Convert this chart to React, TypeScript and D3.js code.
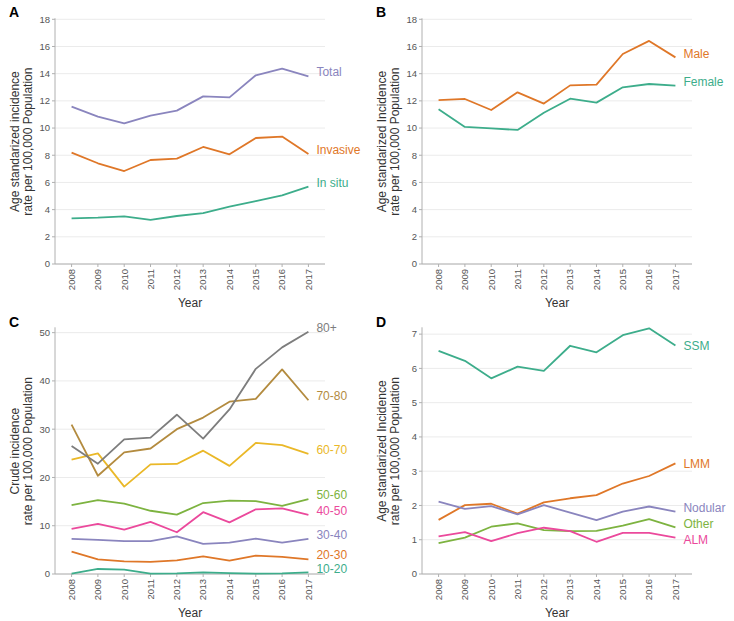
import React from "react";
import * as d3 from "d3";

const years = ["2008", "2009", "2010", "2011", "2012", "2013", "2014", "2015", "2016", "2017"];

// Panel A
const totalA = [11.57, 10.84, 10.35, 10.91, 11.28, 12.33, 12.26, 13.88, 14.37, 13.81];
const invasiveA = [8.19, 7.41, 6.84, 7.65, 7.75, 8.61, 8.07, 9.27, 9.37, 8.09];
const inSituA = [3.36, 3.41, 3.51, 3.24, 3.53, 3.75, 4.22, 4.63, 5.05, 5.69];

// Panel B
const maleB = [12.06, 12.14, 11.33, 12.63, 11.8, 13.14, 13.19, 15.45, 16.41, 15.2];
const femaleB = [11.38, 10.08, 9.98, 9.86, 11.13, 12.16, 11.87, 13.0, 13.24, 13.12];

// Panel C
const age10_20 = [0.07, 1.04, 0.9, 0.07, 0.14, 0.35, 0.2, 0.07, 0.14, 0.35];
const age20_30 = [4.64, 3.05, 2.63, 2.5, 2.84, 3.67, 2.77, 3.8, 3.53, 3.05];
const age30_40 = [7.27, 7.06, 6.8, 6.8, 7.8, 6.23, 6.5, 7.34, 6.5, 7.27];
const age40_50 = [9.35, 10.4, 9.2, 10.8, 8.65, 12.8, 10.7, 13.4, 13.6, 12.25];
const age50_60 = [14.27, 15.3, 14.6, 13.1, 12.3, 14.7, 15.2, 15.1, 14.1, 15.5];
const age60_70 = [23.7, 25.0, 18.1, 22.7, 22.8, 25.55, 22.4, 27.15, 26.7, 24.9];
const age70_80 = [30.95, 20.36, 25.2, 26.0, 30.0, 32.4, 35.7, 36.3, 42.4, 36.0];
const age80plus = [26.5, 22.85, 27.9, 28.25, 33.0, 28.05, 34.1, 42.5, 46.95, 50.2];

// Panel D
const ssmD = [6.51, 6.22, 5.71, 6.05, 5.93, 6.66, 6.47, 6.97, 7.17, 6.67];
const lmmD = [1.58, 2.01, 2.05, 1.76, 2.09, 2.21, 2.3, 2.64, 2.86, 3.23];
const nodularD = [2.11, 1.9, 1.98, 1.74, 2.01, 1.79, 1.57, 1.82, 1.97, 1.82];
const otherD = [0.9, 1.06, 1.38, 1.48, 1.28, 1.25, 1.26, 1.41, 1.6, 1.36];
const almD = [1.1, 1.22, 0.96, 1.19, 1.35, 1.25, 0.94, 1.2, 1.2, 1.06];

const ticksAB = [0, 2, 4, 6, 8, 10, 12, 14, 16, 18];
const ticksC = [0, 10, 20, 30, 40, 50];
const ticksD = [0, 1, 2, 3, 4, 5, 6, 7];

// Dark2 lightened slightly toward white
const pal = d3.schemeDark2.map((c) => d3.interpolateRgb(c, "#ffffff")(0.15));
const FONT = "'Liberation Sans', Arial, Helvetica, sans-serif";

type Series = { name: string; values: number[]; color: string; nudge: number };

type PanelProps = {
  letter: string;
  ox: number;
  oy: number;
  yMax: number;
  top: number;
  ticks: number[];
  yTitle: string[];
  series: Series[];
};

function Panel({ letter, ox, oy, yMax, top, ticks, yTitle, series }: PanelProps) {
  const left = 55;
  const right = 325;
  const bottom = 264;
  const x = d3.scalePoint<string>().domain(years).range([left, right]).padding(0.63);
  const y = d3.scaleLinear().domain([0, yMax]).range([bottom, top]);
  const line = d3
    .line<number>()
    .x((_, i) => x(years[i]) as number)
    .y((v) => y(v));
  const cy = (top + bottom) / 2;
  const lastX = x(years[years.length - 1]) as number;
  return (
    <g transform={`translate(${ox},${oy})`}>
      <text x={9} y={17} fontSize={14} fontWeight="bold" fontFamily={FONT} fill="#000">
        {letter}
      </text>
      {ticks.map((t) => (
        <line key={"g" + t} x1={left} x2={right} y1={y(t)} y2={y(t)} stroke="#ebebeb" strokeWidth={1} />
      ))}
      <line x1={left} x2={left} y1={top - 1} y2={bottom} stroke="#b0b0b0" strokeWidth={1} />
      <line x1={left} x2={right} y1={bottom} y2={bottom} stroke="#b0b0b0" strokeWidth={1} />
      {ticks.map((t) => (
        <g key={"t" + t}>
          <line x1={left - 3} x2={left} y1={y(t)} y2={y(t)} stroke="#b0b0b0" />
          <text x={left - 5} y={y(t)} dy="0.35em" textAnchor="end" fontSize={9.5} fill="#555" fontFamily={FONT}>
            {t}
          </text>
        </g>
      ))}
      {years.map((yr) => (
        <g key={yr}>
          <line x1={x(yr)} x2={x(yr)} y1={bottom} y2={bottom + 3} stroke="#b0b0b0" />
          <text
            transform={`translate(${x(yr)},${bottom + 5}) rotate(-90)`}
            dy="0.35em"
            textAnchor="end"
            fontSize={9.5}
            fill="#555"
            fontFamily={FONT}
          >
            {yr}
          </text>
        </g>
      ))}
      <text x={(left + right) / 2} y={307} textAnchor="middle" fontSize={12} fill="#333" fontFamily={FONT}>
        Year
      </text>
      <text transform={`translate(19,${cy}) rotate(-90)`} textAnchor="middle" fontSize={12} fill="#333" fontFamily={FONT}>
        <tspan x={0} dy={0}>{yTitle[0]}</tspan>
        <tspan x={0} dy={13}>{yTitle[1]}</tspan>
      </text>
      {series.map((s) => (
        <path key={s.name} d={line(s.values) || ""} fill="none" stroke={s.color} strokeWidth={1.8} strokeLinejoin="round" />
      ))}
      {series.map((s) => (
        <text
          key={"l" + s.name}
          x={lastX + 8}
          y={y(s.values[s.values.length - 1]) + s.nudge}
          dy="0.35em"
          fontSize={12}
          fill={s.color}
          fontFamily={FONT}
        >
          {s.name}
        </text>
      ))}
    </g>
  );
}

export default function App() {
  const asr = ["Age standarized incidence", "rate per 100,000 Population"];
  const asrB = ["Age standarized Incidence", "rate per 100,000 Population"];
  const crude = ["Crude incidence", "rate per 100,000 Population"];
  return (
    <svg width={734} height={621} style={{ position: "absolute", left: 0, top: 0, background: "#fff" }}>
      <Panel
        letter="A"
        ox={0}
        oy={0}
        yMax={18}
        top={19.3}
        ticks={ticksAB}
        yTitle={asr}
        series={[
          { name: "Total", values: totalA, color: pal[2], nudge: -4 },
          { name: "Invasive", values: invasiveA, color: pal[1], nudge: -4 },
          { name: "In situ", values: inSituA, color: pal[0], nudge: -4 },
        ]}
      />
      <Panel
        letter="B"
        ox={367}
        oy={0}
        yMax={18}
        top={19.3}
        ticks={ticksAB}
        yTitle={asrB}
        series={[
          { name: "Male", values: maleB, color: pal[1], nudge: -4 },
          { name: "Female", values: femaleB, color: pal[0], nudge: -4 },
        ]}
      />
      <Panel
        letter="C"
        ox={0}
        oy={310}
        yMax={50.9}
        top={18.3}
        ticks={ticksC}
        yTitle={crude}
        series={[
          { name: "10-20", values: age10_20, color: pal[0], nudge: -4 },
          { name: "20-30", values: age20_30, color: pal[1], nudge: -4 },
          { name: "30-40", values: age30_40, color: pal[2], nudge: -4 },
          { name: "40-50", values: age40_50, color: pal[3], nudge: -4 },
          { name: "50-60", values: age50_60, color: pal[4], nudge: -4 },
          { name: "60-70", values: age60_70, color: pal[5], nudge: -4 },
          { name: "70-80", values: age70_80, color: pal[6], nudge: -4 },
          { name: "80+", values: age80plus, color: pal[7], nudge: -4 },
        ]}
      />
      <Panel
        letter="D"
        ox={367}
        oy={310}
        yMax={7.17}
        top={18.3}
        ticks={ticksD}
        yTitle={asrB}
        series={[
          { name: "SSM", values: ssmD, color: pal[0], nudge: 0 },
          { name: "LMM", values: lmmD, color: pal[1], nudge: 0 },
          { name: "Nodular", values: nodularD, color: pal[2], nudge: -4 },
          { name: "Other", values: otherD, color: pal[4], nudge: -4 },
          { name: "ALM", values: almD, color: pal[3], nudge: 2 },
        ]}
      />
    </svg>
  );
}
